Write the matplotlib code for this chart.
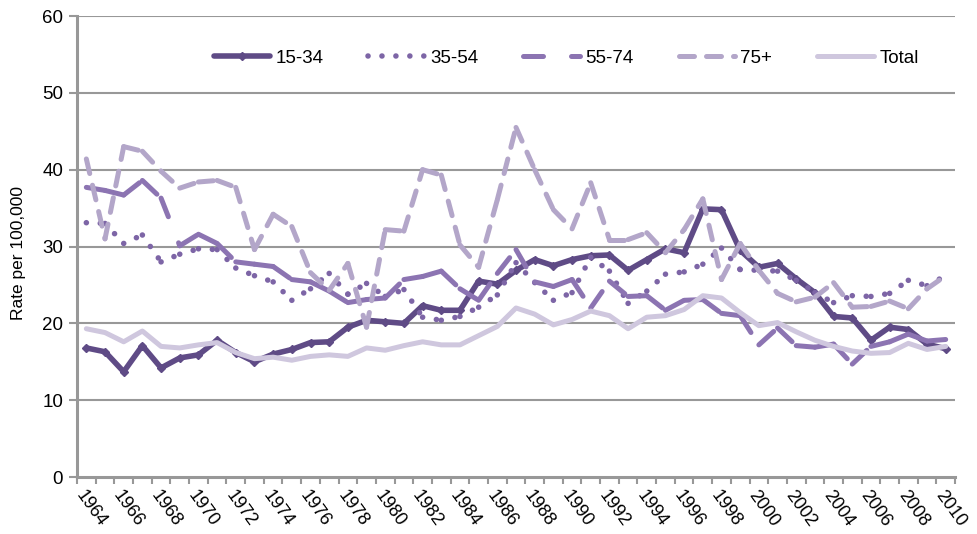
import matplotlib
matplotlib.use("Agg")
import matplotlib.pyplot as plt
import matplotlib.transforms as mtrans
from matplotlib.collections import LineCollection
from matplotlib.lines import Line2D
import numpy as np

plt.rcParams['font.family'] = ['Liberation Sans', 'DejaVu Sans']

# Years 1964..2010, one value per year
years = list(range(1964, 2011))

age_15_34 = [16.8, 16.3, 13.7, 17.1, 14.2, 15.5, 15.9, 17.8, 16.2, 15.0,
             16.0, 16.6, 17.5, 17.6, 19.5, 20.4, 20.2, 20.0, 22.3, 21.7,
             21.7, 25.5, 25.1, 26.9, 28.3, 27.5, 28.3, 28.8, 28.9, 26.9,
             28.3, 29.7, 29.2, 34.9, 34.8, 29.5, 27.3, 27.8, 25.8, 24.0,
             20.9, 20.7, 17.8, 19.5, 19.2, 17.3, 16.7]
age_35_54 = [33.1, 33.0, 30.4, 31.5, 28.0, 29.0, 29.7, 29.6, 27.2, 26.2,
             25.4, 23.0, 24.5, 26.5, 23.8, 25.2, 23.5, 24.4, 20.8, 20.4,
             20.9, 22.1, 23.7, 27.9, 25.3, 23.0, 24.0, 28.6, 26.8, 22.6,
             24.2, 26.4, 26.7, 27.7, 29.8, 27.0, 26.9, 26.8, 25.6, 24.0,
             22.7, 23.6, 23.5, 23.9, 25.6, 24.9, 26.2]
age_55_74 = [37.7, 37.3, 36.7, 38.6, 36.3, 30.1, 31.6, 30.4, 28.0, 27.7,
             27.4, 25.7, 25.4, 24.2, 22.7, 23.1, 23.3, 25.7, 26.1, 26.8,
             24.5, 23.0, 26.5, 29.6, 25.4, 24.8, 25.7, 22.0, 25.5, 23.5,
             23.6, 21.7, 23.0, 23.1, 21.3, 21.0, 17.2, 19.4, 17.1, 16.9,
             17.3, 14.7, 17.0, 17.6, 18.6, 17.7, 17.9]
age_75_plus = [41.4, 31.0, 43.0, 42.4, 39.8, 37.6, 38.4, 38.6, 37.7, 29.6,
               34.2, 32.6, 26.6, 24.3, 27.8, 19.5, 32.2, 32.0, 40.0, 39.3,
               30.2, 27.3, 36.1, 45.5, 40.0, 34.8, 32.3, 38.3, 30.9, 30.9,
               31.8, 29.2, 32.2, 36.2, 25.7, 30.4, 26.9, 23.9, 22.8, 23.4,
               25.3, 22.1, 22.2, 22.9, 21.9, 24.5, 26.2]
total = [19.3, 18.8, 17.6, 19.0, 17.0, 16.8, 17.2, 17.5, 16.2, 15.4,
         15.6, 15.2, 15.7, 15.9, 15.7, 16.8, 16.5, 17.1, 17.6, 17.2,
         17.2, 18.4, 19.6, 22.0, 21.2, 19.8, 20.5, 21.6, 21.0, 19.3,
         20.8, 21.0, 21.8, 23.6, 23.3, 21.4, 19.7, 20.1, 18.9, 17.8,
         17.0, 16.4, 16.1, 16.2, 17.4, 16.6, 17.0]

labels = ["15-34", "35-54", "55-74", "75+", "Total"]
colors = ["#5f4b86", "#7d65a6", "#8c74b2", "#b3a6c9", "#cfc7de"]

x = np.arange(len(years))

fig = plt.figure(figsize=(9.77, 5.34), dpi=100)
ax = fig.add_axes([0.0788, 0.1067, 0.8987, 0.8633])

grid_col = "#989898"
for v in range(10, 61, 10):
    ax.axhline(v, color=grid_col, lw=1.5, zorder=0)

# solid series
ax.plot(x, age_15_34, color=colors[0], lw=4.0, solid_joinstyle='round',
        solid_capstyle='round', marker='D', ms=4, zorder=2)


# dashed series: Excel restarts the dash pattern on every segment,
# so draw each year-to-year step as its own path
def dashed(vals, color, lw, pattern, z):
    segs = [[(x[k], vals[k]), (x[k + 1], vals[k + 1])] for k in range(len(vals) - 1)]
    lc = LineCollection(segs, colors=color, linewidths=lw,
                        linestyles=[(0, pattern)], capstyle='round',
                        joinstyle='round', zorder=z)
    ax.add_collection(lc)


dot_pat = (0.01, 2.5)
long_pat = (4.0, 5.6)
dash_pat = (3.0, 2.4)
dashed(age_35_54, colors[1], 4.0, dot_pat, 3)
dashed(age_55_74, colors[2], 3.6, long_pat, 4)
dashed(age_75_plus, colors[3], 3.6, dash_pat, 5)
ax.plot(x, total, color=colors[4], lw=3.6, solid_joinstyle='round',
        solid_capstyle='round', zorder=6)

ax.set_xlim(-0.5, len(years) - 0.5)
ax.set_ylim(0, 60)
ax.set_yticks(range(0, 61, 10))
ax.tick_params(axis='y', length=6, width=1.5, color=grid_col, labelsize=13.5, pad=4)

ax.set_xticks(x[::2])
ax.set_xticklabels([str(y) for y in years[::2]], rotation=-54, ha='left',
                   va='center', rotation_mode='anchor', fontsize=13)
ax.set_xticks(np.arange(-0.5, len(years), 1), minor=True)
ax.tick_params(axis='x', which='major', length=0, pad=11)
ax.tick_params(axis='x', which='minor', length=5, width=1.5, color=grid_col)
# nudge the slanted year labels a little to the left
shift = mtrans.ScaledTranslation(-7 / 100, 0, fig.dpi_scale_trans)
for lab in ax.get_xticklabels():
    lab.set_transform(lab.get_transform() + shift)

for s in ['top', 'right']:
    ax.spines[s].set_visible(False)
ax.spines['left'].set_color(grid_col)
ax.spines['left'].set_linewidth(2.2)
ax.spines['bottom'].set_color(grid_col)
ax.spines['bottom'].set_linewidth(2.2)
ax.spines['bottom'].set_zorder(1)

ax.set_ylabel("Rate per 100,000", fontsize=12.5)
ax.yaxis.set_label_coords(-0.058, 0.486)

handles = [
    Line2D([], [], color=colors[0], lw=4.0, marker='D', ms=4,
           solid_capstyle='round', markevery=[1]),
    Line2D([], [], color=colors[1], lw=4.0, linestyle=(0, dot_pat), dash_capstyle='round'),
    Line2D([], [], color=colors[2], lw=3.6, linestyle=(0, long_pat), dash_capstyle='round'),
    Line2D([], [], color=colors[3], lw=3.6, linestyle=(0, dash_pat), dash_capstyle='round'),
    Line2D([], [], color=colors[4], lw=3.6, solid_capstyle='round'),
]
leg = ax.legend(handles, labels, loc='center', bbox_to_anchor=(0.557, 0.909),
                ncol=5, frameon=False, fontsize=13.5, handlelength=3.0,
                handletextpad=0.3, columnspacing=2.4, borderpad=0)

fig.savefig("out.png", dpi=100)
